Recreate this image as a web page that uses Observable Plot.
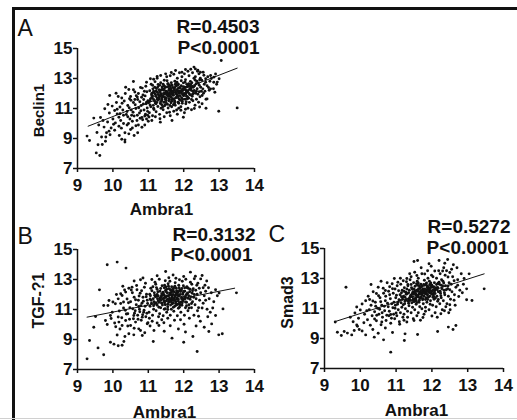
<!DOCTYPE html>
<html>
<head>
<meta charset="utf-8">
<script src="https://cdn.jsdelivr.net/npm/d3@7"></script>
<script src="https://cdn.jsdelivr.net/npm/@observablehq/plot@0.6"></script>
<style>
  html, body { margin: 0; padding: 0; background: #fff; }
  #wrap { position: relative; width: 517px; height: 420px; background: #fff; overflow: hidden; font-family: "Liberation Sans", Arial, sans-serif; }
  #frame { position: absolute; left: 12px; top: 7px; right: 0; bottom: 0; border-top: 3px solid #111; border-left: 3px solid #111; }
  #bottomline { position: absolute; left: 0; right: 0; bottom: 1px; height: 1px; background: #d0d0d0; }
  .panel { position: absolute; }
  .panel svg { overflow: visible; }
</style>
</head>
<body>
<div id="wrap">
  <div id="frame"></div>
  <div id="bottomline"></div>
  <div class="panel" id="pA" style="left:0px;top:0px"></div>
  <div class="panel" id="pB" style="left:0px;top:220px"></div>
  <div class="panel" id="pC" style="left:260px;top:220px"></div>
</div>
<script>
// ---- data (Ambra1 vs. marker expression) ----
const xTicks = [9, 10, 11, 12, 13, 14];
const yTicks = [7, 9, 11, 13, 15];
const xTitle = "Ambra1";

const panelLetters = ["A", "B", "C"];
const yTitles = ["Beclin1", "TGF-?1", "Smad3"];
const rTexts = ["R=0.4503", "R=0.3132", "R=0.5272"];
const pTexts = ["P<0.0001", "P<0.0001", "P<0.0001"];

const fitA = [[9.3, 9.82], [13.51, 13.69]];
const fitB = [[9.27, 10.49], [13.44, 12.42]];
const fitC = [[9.3, 10.13], [13.46, 13.31]];

const beclin1 = [
[9.27,9.16],[9.34,8.87],[9.53,8.04],[9.63,7.87],[9.58,8.58],[9.70,8.60],[9.79,8.82],[9.46,10.36],[9.75,9.76],[9.82,9.38],[9.89,9.49],[9.77,10.98],[9.86,11.27],[9.91,11.87],[10.09,12.02],[9.98,11.16],[10.05,10.87],[10.12,10.64],[10.17,10.42],[10.07,10.04],[10.17,9.82],[10.24,9.69],[10.34,9.38],[10.34,8.91],[10.34,8.76],[10.45,9.31],[10.70,9.38],[10.58,12.80],[10.45,12.27],[10.36,12.42],[10.69,11.76],[10.83,12.36],[11.06,12.98],[11.25,13.13],[11.49,13.31],[11.77,13.53],[12.05,13.6],[12.29,13.76],[12.33,13.64],[12.47,13.42],[12.62,12.98],[12.76,13.2],[12.85,13.09],[12.95,12.76],[13.0,12.98],[12.76,12.31],[12.52,11.87],[12.66,11.64],[11.34,10.09],[11.67,10.2],[11.99,10.42],[13.06,14.2],[13.51,11.04],[12.99,10.82],[12.63,11.02],
[9.6,9.9],[9.65,10.4],[9.72,10.2],[9.85,10.1],[9.9,10.7],[9.95,9.7],[10.0,10.3],[10.02,9.95],[10.1,11.4],[10.15,11.8],[10.2,11.1],[10.22,10.2],[10.28,10.9],[10.3,10.0],[10.32,11.5],[10.38,10.6],[10.4,9.9],[10.42,11.2],[10.48,10.3],[10.5,11.8],[10.52,10.9],[10.55,9.7],[10.58,11.4],[10.6,10.5],[10.62,12.1],[10.65,11.0],[10.68,10.2],[10.7,11.6],[10.72,9.9],[10.75,10.7],[10.78,12.4],[10.8,11.2],[10.82,10.4],[10.85,11.9],[10.88,10.9],[9.8,9.1],[9.92,9.25],[10.05,9.55],[10.18,9.2],[10.25,8.95],[10.5,9.6],[10.6,9.2],[10.4,10.8],[10.35,12.0],[10.25,11.7],[9.55,9.4],[9.68,9.1],[10.9,9.9],[10.95,10.3],
[10.92,10.62],[10.97,11.03],[10.94,11.31],[10.99,11.52],[10.91,11.84],[10.96,12.12],[10.93,12.48],[10.98,10.81],[10.95,11.42],
[11.03,10.72],[11.07,11.12],[11.01,11.38],[11.06,11.63],[11.09,11.91],[11.04,12.18],[11.08,12.62],[11.02,10.43],[11.05,11.24],[11.1,12.02],
[11.12,10.52],[11.16,10.93],[11.14,11.21],[11.18,11.48],[11.11,11.72],[11.17,12.04],[11.13,12.31],[11.19,12.79],[11.15,11.02],[11.12,11.83],[11.18,12.42],
[11.22,10.78],[11.27,11.13],[11.24,11.41],[11.29,11.62],[11.21,11.82],[11.26,12.08],[11.23,12.33],[11.28,12.61],[11.25,13.02],[11.22,11.32],[11.28,11.93],
[11.32,10.61],[11.36,11.02],[11.34,11.33],[11.38,11.52],[11.31,11.71],[11.37,11.92],[11.33,12.12],[11.39,12.43],[11.35,12.72],[11.33,10.32],[11.38,11.62],[11.36,12.23],
[11.42,10.92],[11.46,11.18],[11.44,11.42],[11.48,11.61],[11.41,11.82],[11.47,12.03],[11.43,12.21],[11.49,12.42],[11.45,12.88],[11.41,11.12],[11.47,11.72],[11.44,12.52],
[11.52,10.72],[11.56,11.03],[11.54,11.28],[11.58,11.52],[11.51,11.71],[11.57,11.92],[11.53,12.11],[11.59,12.32],[11.55,12.63],[11.52,13.12],[11.58,11.82],[11.54,12.02],
[11.62,10.52],[11.66,11.12],[11.64,11.38],[11.68,11.62],[11.61,11.83],[11.67,12.02],[11.63,12.22],[11.69,12.41],[11.65,12.72],[11.62,13.18],[11.68,11.92],[11.64,12.13],
[11.72,10.82],[11.76,11.22],[11.74,11.52],[11.78,11.72],[11.71,11.88],[11.77,12.08],[11.73,12.31],[11.79,12.52],[11.75,12.82],[11.72,13.28],[11.78,12.01],[11.74,12.21],
[11.82,10.62],[11.86,11.02],[11.84,11.42],[11.88,11.61],[11.81,11.81],[11.87,12.02],[11.83,12.18],[11.89,12.41],[11.85,12.62],[11.82,13.02],[11.88,13.38],[11.84,12.12],
[11.92,11.12],[11.96,11.48],[11.94,11.72],[11.98,11.91],[11.91,12.08],[11.97,12.28],[11.93,12.52],[11.99,12.71],[11.95,13.12],[11.92,10.88],[11.98,12.21],
[12.02,10.72],[12.06,11.32],[12.04,11.62],[12.08,11.82],[12.01,12.01],[12.07,12.18],[12.03,12.42],[12.09,12.61],[12.05,12.92],[12.02,13.31],[12.08,12.11],
[12.12,11.02],[12.16,11.41],[12.14,11.68],[12.18,11.92],[12.11,12.12],[12.17,12.32],[12.13,12.52],[12.19,12.81],[12.15,13.18],[12.12,13.48],
[12.22,10.92],[12.26,11.52],[12.24,11.82],[12.28,12.02],[12.21,12.22],[12.27,12.41],[12.23,12.72],[12.29,13.02],[12.25,13.38],
[12.32,11.22],[12.36,11.62],[12.34,12.02],[12.38,12.32],[12.31,12.52],[12.37,12.82],[12.33,13.12],[12.39,13.48],
[12.42,11.42],[12.46,11.78],[12.44,12.12],[12.48,12.42],[12.41,12.68],[12.47,13.02],[12.43,13.31],
[12.52,11.32],[12.56,12.02],[12.54,12.31],[12.58,12.62],[12.51,12.88],[12.57,13.22],
[12.63,11.62],[12.72,12.22],[12.66,12.52],[12.74,12.82],[12.68,13.12],
[12.84,12.32],[12.93,12.62],[12.88,12.08],
[11.3,11.85],[11.35,12.0],[11.4,12.3],[11.45,11.95],[11.5,12.15],[11.55,12.45],[11.6,11.6],[11.65,12.3],[11.7,11.95],[11.75,12.4],[11.8,12.25],[11.85,11.7],[11.9,12.35],[11.95,12.0],[12.0,12.3],[12.05,11.95],[12.1,12.45],[11.42,12.62],[11.58,12.22],[11.66,11.48],[11.83,12.55],[11.97,11.62],[12.11,11.78],[11.27,11.55],[11.5,11.4],[11.73,11.65],[11.9,11.85],[12.2,12.6],[11.6,12.55],[11.2,11.95],[11.15,11.6],
[11.05,11.5],[11.1,11.75],[11.15,12.15],[11.2,11.35],[11.25,11.7],[11.3,12.25],[11.35,11.45],[11.4,11.75],[11.45,12.3],[11.5,11.55],[11.55,11.85],[11.6,12.05],[11.65,11.75],[11.7,12.15],[11.75,11.45],[11.8,11.95],[11.85,12.35],[11.9,11.55],[11.95,12.15],[12.0,11.85],[12.05,12.25],[12.1,11.65],[12.15,12.0],[12.2,12.35],[12.25,11.95],[12.3,12.2],[12.35,12.65],[11.32,12.55],[11.48,11.25],[11.56,12.65],[11.63,11.95],[11.78,12.65],[11.86,11.35],[11.93,12.85],[12.07,11.45],[12.18,12.5],[12.26,12.15],[11.12,12.55],[11.22,12.15],[11.38,11.25],[11.43,12.0],[11.53,12.85],[11.67,12.55],[11.71,11.25],[11.81,12.75],[11.96,11.35],[12.04,12.75],[12.13,12.2],[12.22,11.6],[12.32,12.9],[11.27,12.45],[11.34,11.85],[11.47,12.45],[11.52,11.95],[11.61,11.2],[11.69,12.05],[11.76,12.6],[11.84,11.85],[11.9,12.15],[11.99,12.45],[12.06,12.0],[12.14,12.65],[12.24,12.45],[12.36,12.15],[12.44,12.55],[12.5,12.15],[12.4,11.95],[11.58,11.65],[11.74,11.35],[11.62,12.45],
[10.42,10.45],[10.46,11.05],[10.51,11.55],[10.55,10.15],[10.57,10.75],[10.63,11.25],[10.66,11.85],[10.69,10.55],[10.73,11.05],[10.76,11.45],[10.79,10.85],[10.81,11.75],[10.84,10.25],[10.86,11.3],[10.89,12.15],[10.72,12.0],[10.62,11.6],[10.53,10.55],[10.47,11.65],[10.58,12.25],[10.77,10.35],[10.87,11.6],[10.9,10.5],[10.3,10.55],[10.2,10.65],[10.26,11.35],[10.12,10.95],[10.44,10.0],[10.65,9.85],[10.82,9.75],[10.98,10.55],[10.95,12.75],[11.0,10.15],[11.1,10.2],[11.2,10.45],[11.45,10.45],[11.6,10.75],[11.8,10.9],[12.05,10.95],[12.3,11.0],[12.45,12.9],[12.55,13.42],[12.62,12.75],[12.7,12.4],[12.78,13.0],[12.6,12.15],[12.4,13.55],[12.2,13.62],[11.95,13.42],[11.65,13.4],[11.35,13.2],[11.15,12.95],[12.85,12.75],[12.9,13.3],[12.45,11.1]
];

const tgfb1 = [
[9.84,13.98],[10.12,14.16],[10.37,13.76],[9.27,7.71],[9.34,8.93],[9.58,8.44],[9.74,7.98],[9.62,12.31],[9.46,9.82],[9.51,10.53],[12.38,8.2],[12.0,8.82],[11.67,9.09],[11.14,8.87],[13.49,12.11],[13.11,11.04],[13.09,9.38],[12.99,9.31],[12.79,10.04],[12.26,9.2],[12.71,9.53],[12.19,13.49],[12.52,13.27],[12.48,13.04],[10.78,12.98],[11.49,13.53],[9.89,11.6],[9.86,11.27],[9.93,10.6],[9.79,10.27],[9.84,10.0],[9.93,8.82],[10.03,8.69],[10.15,8.58],[10.26,8.62],[10.31,8.87],[10.34,9.2],[10.45,9.38],[10.59,9.31],[10.83,9.27],[10.9,9.45],[11.16,9.6],[11.3,9.93],
[9.74,11.27],[9.98,10.82],[10.07,11.38],[10.15,11.71],[10.26,11.93],[10.36,12.16],[10.45,12.42],[10.54,12.49],[10.17,10.16],[10.26,9.93],[10.36,10.27],[10.5,9.93],[10.64,10.16],[10.73,9.71],[10.59,10.6],[10.83,10.49],[10.97,10.05],[10.73,11.2],
[10.42,10.72],[10.48,11.12],[10.5,11.52],[10.55,12.12],[10.58,10.38],[10.6,11.82],[10.63,10.92],[10.66,11.32],[10.68,12.32],[10.7,10.62],[10.72,11.62],[10.75,11.02],[10.77,12.08],[10.8,10.28],[10.82,11.42],[10.85,11.82],[10.87,10.82],[10.89,12.48],[10.91,11.22],[10.93,10.52],[10.95,12.02],[10.97,11.62],[10.99,10.12],
[9.95,10.4],[10.0,11.5],[10.05,10.1],[10.1,12.0],[10.18,10.9],[10.22,11.4],[10.25,10.45],[10.3,11.1],[10.33,12.3],[10.38,10.7],[10.4,11.7],[10.2,9.7],[10.12,9.3],[10.08,9.85],
[11.02,10.82],[11.05,11.22],[11.08,11.62],[11.04,12.02],[11.07,12.42],[11.03,10.42],[11.09,11.42],[11.06,11.92],
[11.12,10.62],[11.15,11.02],[11.18,11.38],[11.14,11.72],[11.17,12.12],[11.13,12.52],[11.19,12.82],[11.16,11.52],[11.11,10.22],
[11.22,10.92],[11.25,11.28],[11.28,11.58],[11.24,11.88],[11.27,12.18],[11.23,12.46],[11.29,10.52],[11.26,11.72],[11.21,12.68],
[11.32,10.72],[11.35,11.12],[11.38,11.42],[11.34,11.68],[11.37,11.92],[11.33,12.22],[11.39,12.58],[11.36,11.82],[11.31,13.02],[11.38,10.32],
[11.42,10.58],[11.45,11.02],[11.48,11.32],[11.44,11.58],[11.47,11.82],[11.43,12.02],[11.49,12.28],[11.46,12.62],[11.41,11.72],[11.48,12.92],[11.44,10.12],
[11.52,10.82],[11.55,11.18],[11.58,11.48],[11.54,11.68],[11.57,11.92],[11.53,12.12],[11.59,12.38],[11.56,12.72],[11.51,11.58],[11.58,13.12],[11.55,10.42],
[11.62,10.62],[11.65,11.02],[11.68,11.38],[11.64,11.62],[11.67,11.82],[11.63,12.02],[11.69,12.22],[11.66,12.52],[11.61,12.88],[11.68,11.72],[11.62,9.92],
[11.72,10.88],[11.75,11.22],[11.78,11.52],[11.74,11.78],[11.77,11.98],[11.73,12.18],[11.79,12.42],[11.76,12.78],[11.71,11.62],[11.78,13.08],[11.74,10.28],
[11.82,10.58],[11.85,11.08],[11.88,11.42],[11.84,11.68],[11.87,11.88],[11.83,12.12],[11.89,12.32],[11.86,12.62],[11.81,11.78],[11.88,12.98],
[11.92,10.82],[11.95,11.28],[11.98,11.58],[11.94,11.82],[11.97,12.02],[11.93,12.28],[11.99,12.58],[11.96,12.88],[11.91,10.32],
[12.02,10.62],[12.05,11.12],[12.08,11.48],[12.04,11.72],[12.07,11.98],[12.03,12.22],[12.09,12.52],[12.06,13.02],[12.01,10.02],
[12.12,10.92],[12.15,11.32],[12.18,11.68],[12.14,11.92],[12.17,12.18],[12.13,12.42],[12.19,12.82],[12.16,10.42],
[12.22,11.12],[12.25,11.52],[12.28,11.82],[12.24,12.08],[12.27,12.38],[12.23,12.68],[12.29,10.62],
[12.32,11.32],[12.35,11.72],[12.38,12.02],[12.34,12.28],[12.37,12.62],[12.33,13.22],[12.39,10.92],
[12.42,11.12],[12.45,11.62],[12.48,12.12],[12.44,12.42],[12.47,10.22],
[12.55,11.42],[12.58,11.92],[12.62,12.22],[12.66,11.02],[12.6,12.62],[12.72,11.72],[12.78,12.12],[12.85,11.52],[12.9,12.32],[12.95,11.92],[12.68,10.52],[12.75,10.82],[12.58,9.82],
[11.3,11.5],[11.4,11.95],[11.5,12.2],[11.55,11.35],[11.6,11.75],[11.65,12.15],[11.7,11.45],[11.75,11.9],[11.8,12.25],[11.85,11.55],[11.9,12.0],[11.95,12.4],[12.0,11.7],[12.1,12.05],[11.45,12.45],[11.35,11.6],[11.25,12.0],[11.7,12.35],[11.8,11.3],[12.05,11.85],[11.5,11.85],[11.62,12.32],[11.88,11.15],
[11.05,11.7],[11.1,12.25],[11.15,11.25],[11.2,11.85],[11.25,12.35],[11.3,11.15],[11.35,12.4],[11.4,11.3],[11.45,11.75],[11.5,12.5],[11.55,11.0],[11.6,12.1],[11.65,11.5],[11.7,12.0],[11.75,12.55],[11.8,11.7],[11.85,12.2],[11.9,11.3],[11.95,11.7],[12.0,12.2],[12.05,11.5],[12.1,12.45],[12.15,11.1],[12.2,11.85],[12.25,12.25],[11.28,11.9],[11.42,12.15],[11.48,11.05],[11.53,11.9],[11.57,12.55],[11.63,11.3],[11.67,11.95],[11.72,12.45],[11.77,11.4],[11.83,11.95],[11.87,12.45],[11.93,11.5],[11.98,12.1],[12.03,12.45],[12.08,11.25],[12.12,11.75],[12.18,12.35],[11.18,11.95],[11.22,11.45],[11.33,11.75],[11.38,12.05],[11.46,11.45],[11.52,12.35],[11.58,11.65],[11.66,12.3],[11.71,11.15],[11.79,12.1],[11.84,11.35],[11.91,12.2],[11.96,11.45],[12.02,11.85],[12.11,12.1],[12.22,11.4],[12.3,12.0],[11.6,11.95],[11.75,11.6],[11.45,11.95],[11.69,11.68],[11.82,12.0],
[10.44,11.45],[10.47,10.35],[10.52,12.3],[10.56,11.05],[10.61,10.75],[10.64,11.65],[10.67,12.6],[10.71,10.35],[10.74,11.9],[10.76,10.85],[10.79,11.25],[10.81,12.25],[10.84,10.65],[10.86,11.55],[10.88,10.95],[10.92,12.75],[10.94,11.85],[10.96,10.75],[10.98,11.4],[10.6,9.75],[10.42,9.9],[10.78,9.6],[10.3,11.5],[10.35,10.95],[10.22,12.05],[10.15,10.5],[10.28,12.55],[10.6,12.9],[10.85,13.1],[11.1,13.0],[11.25,13.25],[11.7,13.3],[12.0,13.2],[12.3,13.05],[12.4,12.75],[12.55,12.45],[12.65,12.9],[12.52,11.1],[12.62,11.62],[12.42,10.55],[12.35,9.9],[12.05,9.5],[11.85,9.7],[11.45,9.55],[11.25,10.1],[11.05,9.9],[12.82,11.1],[12.9,10.6],[13.0,12.1],[12.7,12.45]
];

const smad3 = [
[10.85,8.09],[9.6,12.42],[10.65,8.91],[11.23,8.87],[11.25,9.31],[11.6,9.27],[12.16,9.47],[12.46,9.76],[12.59,9.6],[12.67,9.87],[13.46,12.31],[12.97,11.58],[13.12,11.53],[13.04,13.31],[12.97,12.31],[9.36,9.42],[9.47,9.2],[9.55,9.47],[9.64,9.36],[9.76,9.24],[9.83,9.53],[9.92,9.82],[9.97,9.6],[10.15,9.24],[10.39,9.09],[11.5,14.13],[11.6,14.2],[12.2,14.2],[12.44,14.27],[11.92,13.98],[9.3,10.1],
[9.72,10.42],[9.8,10.12],[9.85,10.7],[9.9,11.1],[9.95,10.35],[10.0,10.9],[10.05,11.3],[10.1,10.05],[10.12,10.62],[10.15,11.52],[10.2,10.25],[10.22,11.82],[10.25,10.92],[10.28,9.88],[10.3,11.22],[10.33,10.52],[10.36,12.12],[10.4,10.78],[10.42,11.42],[10.45,10.18],[10.48,11.02],[10.5,12.42],[10.52,10.62],[10.55,11.72],[10.58,9.92],[10.6,11.22],[10.62,10.42],[10.65,12.02],[10.68,10.85],[10.7,11.52],[10.72,10.2],[10.75,12.72],[10.78,11.12],[10.8,10.52],[10.82,11.92],[10.85,10.02],[10.88,11.32],[10.9,12.32],[9.9,9.9],[10.05,9.5],[10.35,9.6],[10.5,9.35],[10.7,9.7],[10.9,9.4],[10.95,13.0],[10.58,12.82],[10.3,12.6],
[10.93,10.62],[10.97,11.02],[10.94,11.42],[10.99,11.72],[10.92,12.02],[10.96,10.32],[10.98,11.22],
[11.02,10.52],[11.06,10.92],[11.04,11.28],[11.08,11.58],[11.01,11.88],[11.07,12.18],[11.03,12.52],[11.09,10.12],[11.05,11.42],
[11.12,10.72],[11.16,11.08],[11.14,11.38],[11.18,11.62],[11.11,11.92],[11.17,12.22],[11.13,12.62],[11.19,10.42],[11.15,11.78],[11.12,13.02],
[11.22,10.62],[11.26,10.98],[11.24,11.32],[11.28,11.58],[11.21,11.82],[11.27,12.08],[11.23,12.38],[11.29,12.78],[11.25,11.48],[11.22,10.22],
[11.32,10.82],[11.36,11.18],[11.34,11.48],[11.38,11.72],[11.31,11.98],[11.37,12.22],[11.33,12.52],[11.39,12.92],[11.35,11.62],[11.32,10.42],[11.38,13.32],
[11.42,10.72],[11.46,11.08],[11.44,11.38],[11.48,11.62],[11.41,11.88],[11.47,12.12],[11.43,12.38],[11.49,12.72],[11.45,11.78],[11.42,13.12],[11.48,10.32],
[11.52,10.92],[11.56,11.28],[11.54,11.52],[11.58,11.78],[11.51,12.02],[11.57,12.22],[11.53,12.48],[11.59,12.82],[11.55,11.92],[11.52,13.42],[11.58,10.52],
[11.62,10.72],[11.66,11.12],[11.64,11.42],[11.68,11.68],[11.61,11.88],[11.67,12.12],[11.63,12.32],[11.69,12.62],[11.65,12.02],[11.62,13.02],[11.68,10.22],
[11.72,10.98],[11.76,11.32],[11.74,11.58],[11.78,11.82],[11.71,12.02],[11.77,12.22],[11.73,12.48],[11.79,12.88],[11.75,12.12],[11.72,13.32],[11.78,10.62],
[11.82,11.08],[11.86,11.42],[11.84,11.72],[11.88,11.92],[11.81,12.12],[11.87,12.38],[11.83,12.62],[11.89,13.02],[11.85,12.22],[11.82,10.82],[11.88,13.52],
[11.92,10.92],[11.96,11.52],[11.94,11.82],[11.98,12.02],[11.91,12.28],[11.97,12.52],[11.93,12.82],[11.99,13.22],[11.95,11.28],[11.92,12.12],
[12.02,11.22],[12.06,11.62],[12.04,11.92],[12.08,12.18],[12.01,12.42],[12.07,12.72],[12.03,13.12],[12.09,10.72],[12.05,12.02],
[12.12,11.12],[12.16,11.48],[12.14,11.82],[12.18,12.12],[12.11,12.38],[12.17,12.68],[12.13,13.02],[12.19,13.52],[12.15,10.42],
[12.22,11.32],[12.26,11.72],[12.24,12.02],[12.28,12.32],[12.21,12.62],[12.27,12.92],[12.23,13.32],[12.29,10.92],
[12.32,11.52],[12.36,11.92],[12.34,12.22],[12.38,12.52],[12.31,12.82],[12.37,13.22],[12.33,13.72],[12.39,11.12],
[12.42,11.32],[12.46,11.82],[12.44,12.32],[12.48,12.72],[12.41,13.52],[12.47,10.72],
[12.52,11.62],[12.56,12.12],[12.54,12.62],[12.58,13.12],[12.51,10.92],[12.55,13.62],
[12.63,11.92],[12.67,12.42],[12.72,12.92],[12.65,11.22],[12.78,12.22],[12.82,13.32],[12.7,13.72],[12.88,12.62],[12.6,13.92],[12.36,14.02],[11.98,13.82],[11.7,13.72],
[11.4,11.55],[11.45,12.0],[11.5,12.3],[11.55,11.7],[11.6,12.15],[11.65,12.5],[11.7,11.75],[11.75,12.3],[11.8,12.55],[11.85,11.95],[11.9,12.45],[11.95,12.2],[12.0,12.55],[12.05,11.8],[12.1,12.3],[11.35,12.05],[11.58,11.4],[11.72,12.05],[11.88,11.6],[12.02,12.2],[11.62,12.7],[11.8,12.0],[11.5,11.65],
[11.1,11.55],[11.15,12.05],[11.2,11.25],[11.25,11.75],[11.3,12.3],[11.35,11.35],[11.4,11.8],[11.45,12.3],[11.5,11.45],[11.55,12.0],[11.6,12.55],[11.65,11.55],[11.7,12.2],[11.75,11.65],[11.8,12.3],[11.85,12.7],[11.9,11.75],[11.95,12.35],[12.0,11.95],[12.05,12.45],[12.1,11.7],[12.15,12.25],[12.2,12.75],[12.25,11.85],[12.3,12.5],[12.35,12.05],[11.28,11.95],[11.42,12.6],[11.47,11.55],[11.53,12.15],[11.57,12.65],[11.63,11.75],[11.67,12.35],[11.73,11.9],[11.77,12.6],[11.83,12.0],[11.87,12.5],[11.93,12.05],[11.97,12.7],[12.03,11.75],[12.07,12.3],[12.13,12.6],[12.18,11.6],[12.23,12.15],[12.33,12.7],[12.4,12.25],[11.18,11.75],[11.22,12.15],[11.33,12.6],[11.38,11.55],[11.48,11.95],[11.56,11.55],[11.62,12.25],[11.68,11.95],[11.76,12.05],[11.82,11.6],[11.88,12.2],[11.94,12.6],[12.01,12.15],[12.09,12.0],[12.16,12.4],[12.26,12.55],[12.45,12.5],[12.5,12.25],[11.7,12.45],[11.85,12.1],
[10.43,11.15],[10.46,10.55],[10.51,11.85],[10.54,10.95],[10.57,11.45],[10.61,10.72],[10.64,12.35],[10.67,11.15],[10.71,11.82],[10.74,10.55],[10.76,11.35],[10.79,12.15],[10.81,10.82],[10.84,11.65],[10.87,10.35],[10.89,12.65],[10.91,11.05],[10.97,12.3],[10.82,12.45],[10.7,12.2],[10.45,12.0],[10.35,11.5],[10.26,11.6],[10.18,10.85],[10.4,10.3],[10.6,10.1],[10.85,10.6],[11.0,10.7],[11.1,9.95],[11.3,10.1],[11.5,10.2],[11.75,10.4],[12.0,10.5],[12.25,10.65],[12.35,10.85],[12.5,11.25],[12.62,11.55],[12.45,13.1],[12.62,12.85],[12.72,12.55],[12.5,13.4],[12.3,13.5],[12.08,13.5],[11.8,13.3],[11.58,13.2],[11.3,13.0],[11.2,12.85],[11.05,12.75],[12.9,13.0],[12.85,12.05],[12.75,11.8]
];

// ---- drawing ----
const FONT = "'Liberation Sans', Arial, Helvetica, sans-serif";

function panel(cfg) {
  const {width, height, ml, mt, mr, mb, pts, fit, letter, yTitle, r, p, lay} = cfg;
  const tx = (t, o) => Plot.text([t], {frameAnchor: "top-left", lineAnchor: "bottom", fill: "#111", ...o});
  return Plot.plot({
    width, height,
    marginLeft: ml, marginTop: mt, marginRight: mr, marginBottom: mb,
    x: {domain: [9, 14]},
    y: {domain: [7, 15]},
    style: {fontFamily: FONT, background: "transparent", overflow: "visible", color: "#111"},
    marks: [
      Plot.dot(pts, {x: d => d[0], y: d => d[1], r: 1.45, fill: "#111", stroke: "none"}),
      Plot.line(fit, {x: d => d[0], y: d => d[1], stroke: "#111", strokeWidth: 1}),
      Plot.axisX(xTicks, {tickSize: 4, tickPadding: 6, fontSize: 17, fontWeight: "bold", label: null, strokeWidth: 1.5}),
      Plot.axisY(yTicks, {tickSize: 4, tickPadding: 1, fontSize: 17, fontWeight: "bold", label: null, strokeWidth: 1.5}),
      Plot.ruleX([9], {stroke: "#111", strokeWidth: 1.5}),
      Plot.ruleY([7], {stroke: "#111", strokeWidth: 1.5}),
      tx(letter, {textAnchor: "start", fontSize: 23, fontWeight: "normal", dx: lay.letter[0], dy: lay.letter[1]}),
      tx(r, {textAnchor: "end", fontSize: 19, fontWeight: "bold", dx: lay.r[0], dy: lay.r[1]}),
      tx(p, {textAnchor: "end", fontSize: 19, fontWeight: "bold", dx: lay.p[0], dy: lay.p[1]}),
      tx(xTitle, {textAnchor: "middle", fontSize: 17, fontWeight: "bold", dx: lay.xt[0], dy: lay.xt[1]}),
      tx(yTitle, {textAnchor: "middle", rotate: -90, fontSize: lay.ytSize, fontWeight: "bold", dx: lay.yt[0], dy: lay.yt[1]})
    ]
  });
}

document.getElementById("pA").append(panel({
  width: 270, height: 220, ml: 77, mt: 48, mr: 16, mb: 52,
  pts: beclin1, fit: fitA, letter: panelLetters[0], yTitle: yTitles[0], r: rTexts[0], p: pTexts[0],
  lay: {letter: [-60, -13], r: [182, -16], p: [182, 5], xt: [84, 166], yt: [-34, 62], ytSize: 15}
}));
document.getElementById("pB").append(panel({
  width: 260, height: 200, ml: 77, mt: 29, mr: 6, mb: 51,
  pts: tgfb1, fit: fitB, letter: panelLetters[1], yTitle: yTitles[1], r: rTexts[1], p: pTexts[1],
  lay: {letter: [-60, -6], r: [178, -9], p: [175, 11], xt: [87, 168], yt: [-34, 51], ytSize: 16}
}));
document.getElementById("pC").append(panel({
  width: 257, height: 200, ml: 64, mt: 28, mr: 14, mb: 52,
  pts: smad3, fit: fitC, letter: panelLetters[2], yTitle: yTitles[2], r: rTexts[2], p: pTexts[2],
  lay: {letter: [-56, -7], r: [186, -16], p: [184, 5], xt: [92, 167], yt: [-32, 54], ytSize: 16}
}));
</script>
</body>
</html>
